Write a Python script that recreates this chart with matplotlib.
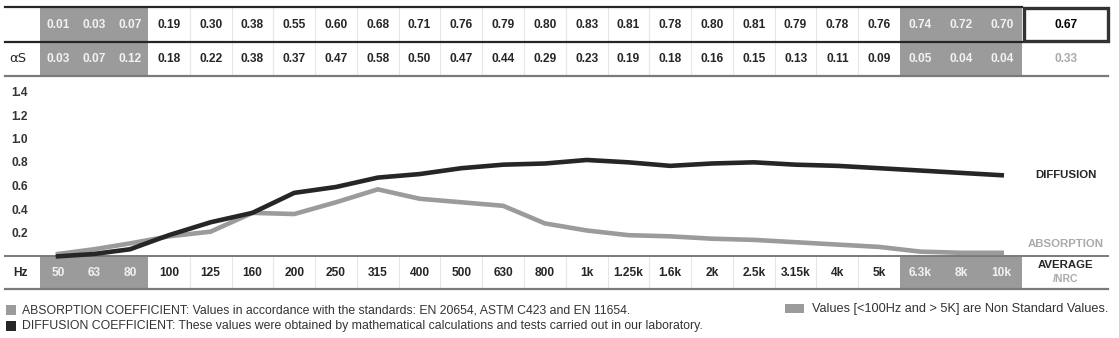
import numpy as np
import matplotlib.pyplot as plt
from matplotlib.patches import Rectangle

plt.rcParams['font.family'] = ['Liberation Sans Narrow', 'Liberation Sans', 'DejaVu Sans']

# data
freqs = ["50", "63", "80", "100", "125", "160", "200", "250", "315", "400", "500", "630",
         "800", "1k", "1.25k", "1.6k", "2k", "2.5k", "3.15k", "4k", "5k", "6.3k", "8k", "10k"]
diffusion = [0.01, 0.03, 0.07, 0.19, 0.30, 0.38, 0.55, 0.60, 0.68, 0.71, 0.76, 0.79,
             0.80, 0.83, 0.81, 0.78, 0.80, 0.81, 0.79, 0.78, 0.76, 0.74, 0.72, 0.70]
absorption = [0.03, 0.07, 0.12, 0.18, 0.22, 0.38, 0.37, 0.47, 0.58, 0.50, 0.47, 0.44,
              0.29, 0.23, 0.19, 0.18, 0.16, 0.15, 0.13, 0.11, 0.09, 0.05, 0.04, 0.04]
diffusion_avg = 0.67
absorption_nrc = 0.33
yticks = [0.2, 0.4, 0.6, 0.8, 1.0, 1.2, 1.4]
nonstandard = [True] * 3 + [False] * 18 + [True] * 3

# colours
DARK = "#262626"
GRAY = "#9b9b9b"
LINEGRAY = "#7a7a7a"
SEP = "#e6e6e6"
TBL = ['Liberation Sans', 'DejaVu Sans']   # wider face for table figures

W, H = 1119, 338
fig = plt.figure(figsize=(W / 100, H / 100), dpi=100)

# background axes in pixel units (y down)
bg = fig.add_axes([0, 0, 1, 1])
bg.set_xlim(0, W)
bg.set_ylim(H, 0)
bg.axis('off')

# column layout (px)
widths = [36] * 3 + [41.78] * 18 + [40.67] * 3
edges = 40 + np.concatenate([[0], np.cumsum(widths)])
centers = (edges[:-1] + edges[1:]) / 2

rows = {"r1": (7, 41.5), "r2": (41.5, 75.5), "hz": (256, 289)}

# gray cells and separators
for (y0, y1) in rows.values():
    for i, ns in enumerate(nonstandard):
        if ns:
            bg.add_patch(Rectangle((edges[i], y0), widths[i], y1 - y0,
                                   facecolor=GRAY, edgecolor='none', zorder=1))
    for i in range(4, 21):
        bg.plot([edges[i], edges[i]], [y0 + 1, y1 - 1], color=SEP, lw=0.8, zorder=1)

# horizontal rules
bg.plot([5, 1022], [7, 7], color=DARK, lw=1.6, zorder=3)
bg.plot([5, 1022], [41.5, 41.5], color=DARK, lw=1.6, zorder=3)
bg.plot([5, 1108], [75.5, 75.5], color=LINEGRAY, lw=1.6, zorder=3)
bg.plot([5, 1108], [256, 256], color=LINEGRAY, lw=1.4, zorder=3)
bg.plot([5, 1108], [289, 289], color=LINEGRAY, lw=1.6, zorder=3)

# average box
bg.add_patch(Rectangle((1023.5, 7.5), 84, 33.5, facecolor='white',
                       edgecolor='#333333', lw=2.4, zorder=4))

fs = 8.6
for i in range(len(freqs)):
    c = "#f2f2f2" if nonstandard[i] else DARK
    bg.text(centers[i], 24.5, f"{diffusion[i]:.2f}", ha='center', va='center',
            fontsize=fs, fontweight='bold', color=c, zorder=5, family=TBL)
    bg.text(centers[i], 58.5, f"{absorption[i]:.2f}", ha='center', va='center',
            fontsize=fs, fontweight='bold', color=c, zorder=5, family=TBL)
    bg.text(centers[i], 272.5, freqs[i], ha='center', va='center',
            fontsize=fs, fontweight='bold', color=c, zorder=5, family=TBL)

bg.text(1066, 24.5, f"{diffusion_avg:.2f}", ha='center', va='center',
        fontsize=fs, fontweight='bold', color='black', zorder=5, family=TBL)
bg.text(1066, 58.5, f"{absorption_nrc:.2f}", ha='center', va='center',
        fontsize=fs, fontweight='bold', color='#aaaaaa', zorder=5, family=TBL)
bg.text(18, 58.5, "αS", ha='center', va='center', fontsize=9.5, color=DARK,
        family=['DejaVu Sans'])
bg.text(20, 272.5, "Hz", ha='center', va='center', fontsize=fs,
        fontweight='bold', color=DARK, family=TBL)
bg.text(1066, 265, "AVERAGE", ha='center', va='center', fontsize=8.2,
        fontweight='bold', color=DARK, family=TBL)
bg.text(1066, 279.5, "/NRC", ha='center', va='center', fontsize=7.5,
        fontweight='bold', color='#aaaaaa', family=TBL)

# plot axes: value 0 at px 257.5, 117.5 px per unit
ax = fig.add_axes([0, 0, 1, 1])
ax.patch.set_alpha(0)
ax.set_xlim(0, W)
ax.set_ylim(-(H - 257.5) / 117.5, 257.5 / 117.5)
ax.axis('off')
ax.plot(centers, absorption, color=GRAY, lw=3.3, zorder=2)
ax.plot(centers, diffusion, color=DARK, lw=3.3, zorder=3)
for v in yticks:
    ax.text(20, v, f"{v:.1f}", ha='center', va='center', fontsize=fs,
            fontweight='bold', color='#333333', family=TBL)

bg.text(1066, 175, "DIFFUSION", ha='center', va='center', fontsize=8.2,
        fontweight='bold', color=DARK, family=TBL)
bg.text(1066, 244, "ABSORPTION", ha='center', va='center', fontsize=8.2,
        fontweight='bold', color='#aaaaaa', family=TBL)

# legend notes
bg.add_patch(Rectangle((6, 305), 10, 10, facecolor=GRAY, edgecolor='none'))
bg.add_patch(Rectangle((6, 321), 10, 10, facecolor=DARK, edgecolor='none'))
bg.text(22, 310.5, "ABSORPTION COEFFICIENT: Values in accordance with the standards: "
        "EN 20654, ASTM C423 and EN 11654.", ha='left', va='center',
        fontsize=8.8, color='#333333')
bg.text(22, 326.5, "DIFFUSION COEFFICIENT: These values were obtained by mathematical "
        "calculations and tests carried out in our laboratory.", ha='left',
        va='center', fontsize=8.8, color='#333333')
bg.add_patch(Rectangle((785, 304), 19, 9, facecolor=GRAY, edgecolor='none'))
bg.text(1108, 309, "Values [<100Hz and > 5K] are Non Standard Values.", ha='right',
        va='center', fontsize=9.2, color='#333333')

fig.savefig("out.png", dpi=100)
